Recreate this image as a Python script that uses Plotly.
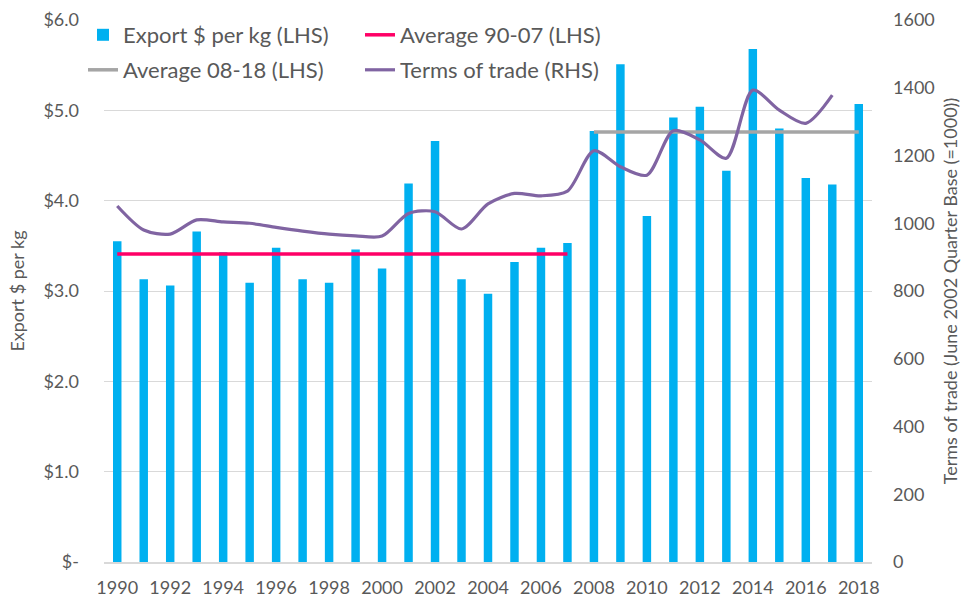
import plotly.graph_objects as go

years = list(range(1990, 2019))
export_per_kg = [3.55, 3.13, 3.06, 3.66, 3.43, 3.09, 3.48, 3.13, 3.09, 3.46,
                 3.25, 4.19, 4.66, 3.13, 2.97, 3.32, 3.48, 3.53, 4.77, 5.51,
                 3.83, 4.92, 5.04, 4.33, 5.68, 4.80, 4.25, 4.18, 5.07]
avg_90_07_years = list(range(1990, 2008))
avg_90_07 = [3.41] * len(avg_90_07_years)
avg_08_18_years = list(range(2008, 2019))
avg_08_18 = [4.76] * len(avg_08_18_years)
tot_years = list(range(1990, 2018))
terms_of_trade = [1051, 980, 968, 1010, 1004, 1000, 988, 977, 968, 963,
                  962, 1029, 1034, 983, 1057, 1088, 1081, 1095, 1214, 1167,
                  1142, 1273, 1246, 1192, 1393, 1334, 1295, 1378]

left_ticks = [0, 1, 2, 3, 4, 5, 6]
left_ticktext = ["$-", "$1.0", "$2.0", "$3.0", "$4.0", "$5.0", "$6.0"]
right_ticks = [0, 200, 400, 600, 800, 1000, 1200, 1400, 1600]
x_ticks = list(range(1990, 2019, 2))

FONT = "Lato"
GREY = "#595959"

fig = go.Figure()
fig.add_trace(go.Bar(x=years, y=export_per_kg, name="Export $ per kg (LHS)",
                     marker=dict(color="#00B0F0", line=dict(width=0)),
                     width=0.32, legend="legend"))
fig.add_trace(go.Scatter(x=avg_90_07_years, y=avg_90_07, name="Average 90-07 (LHS)",
                         mode="lines", line=dict(color="#FF0066", width=3.5),
                         legend="legend"))
fig.add_trace(go.Scatter(x=avg_08_18_years, y=avg_08_18, name="Average 08-18 (LHS)",
                         mode="lines", line=dict(color="#A5A5A5", width=3.5),
                         legend="legend2"))
fig.add_trace(go.Scatter(x=tot_years, y=terms_of_trade, name="Terms of trade (RHS)",
                         mode="lines", line=dict(color="#8064A2", width=3.2, shape="spline", smoothing=0.8),
                         yaxis="y2", legend="legend2"))

legend_common = dict(orientation="h", xref="container", yref="container",
                     xanchor="left", yanchor="middle", bgcolor="rgba(0,0,0,0)",
                     font=dict(family=FONT, size=22, color=GREY),
                     entrywidth=232, entrywidthmode="pixels", itemwidth=30,
                     traceorder="normal")

fig.update_layout(
    width=964, height=601,
    margin=dict(l=104, r=92, t=20, b=39, autoexpand=False),
    paper_bgcolor="white", plot_bgcolor="white",
    font=dict(family=FONT, color=GREY, size=18),
    barmode="overlay",
    showlegend=True,
    legend=dict(x=83/964, y=1 - 35/601, **legend_common),
    legend2=dict(x=83/964, y=1 - 70/601, **legend_common),
    xaxis=dict(range=[1989.5, 2018.5], tickvals=x_ticks, ticktext=[str(v) for v in x_ticks],
               showgrid=False, showline=True, linecolor="#D9D9D9", linewidth=1.5,
               ticks="", ticklabelstandoff=9,
               tickfont=dict(size=18, color=GREY), zeroline=False),
    yaxis=dict(range=[0, 6], tickvals=left_ticks, ticktext=left_ticktext,
               showgrid=True, gridcolor="#D9D9D9", gridwidth=1, zeroline=False,
               ticks="", ticklabelstandoff=24,
               tickfont=dict(size=18, color=GREY),
               title=dict(text="Export $ per kg", font=dict(size=18, color=GREY), standoff=14)),
    yaxis2=dict(range=[0, 1600], tickvals=right_ticks, overlaying="y", side="right",
                showgrid=False, zeroline=False, ticks="", ticklabelstandoff=20,
                tickfont=dict(size=18, color=GREY),
                title=dict(text="Terms of trade (June 2002 Quarter Base (=1000))",
                           font=dict(size=18, color=GREY), standoff=10)),
)

fig.write_html("out.html", config={"displayModeBar": False},
               post_script="document.body.style.margin='0';")
